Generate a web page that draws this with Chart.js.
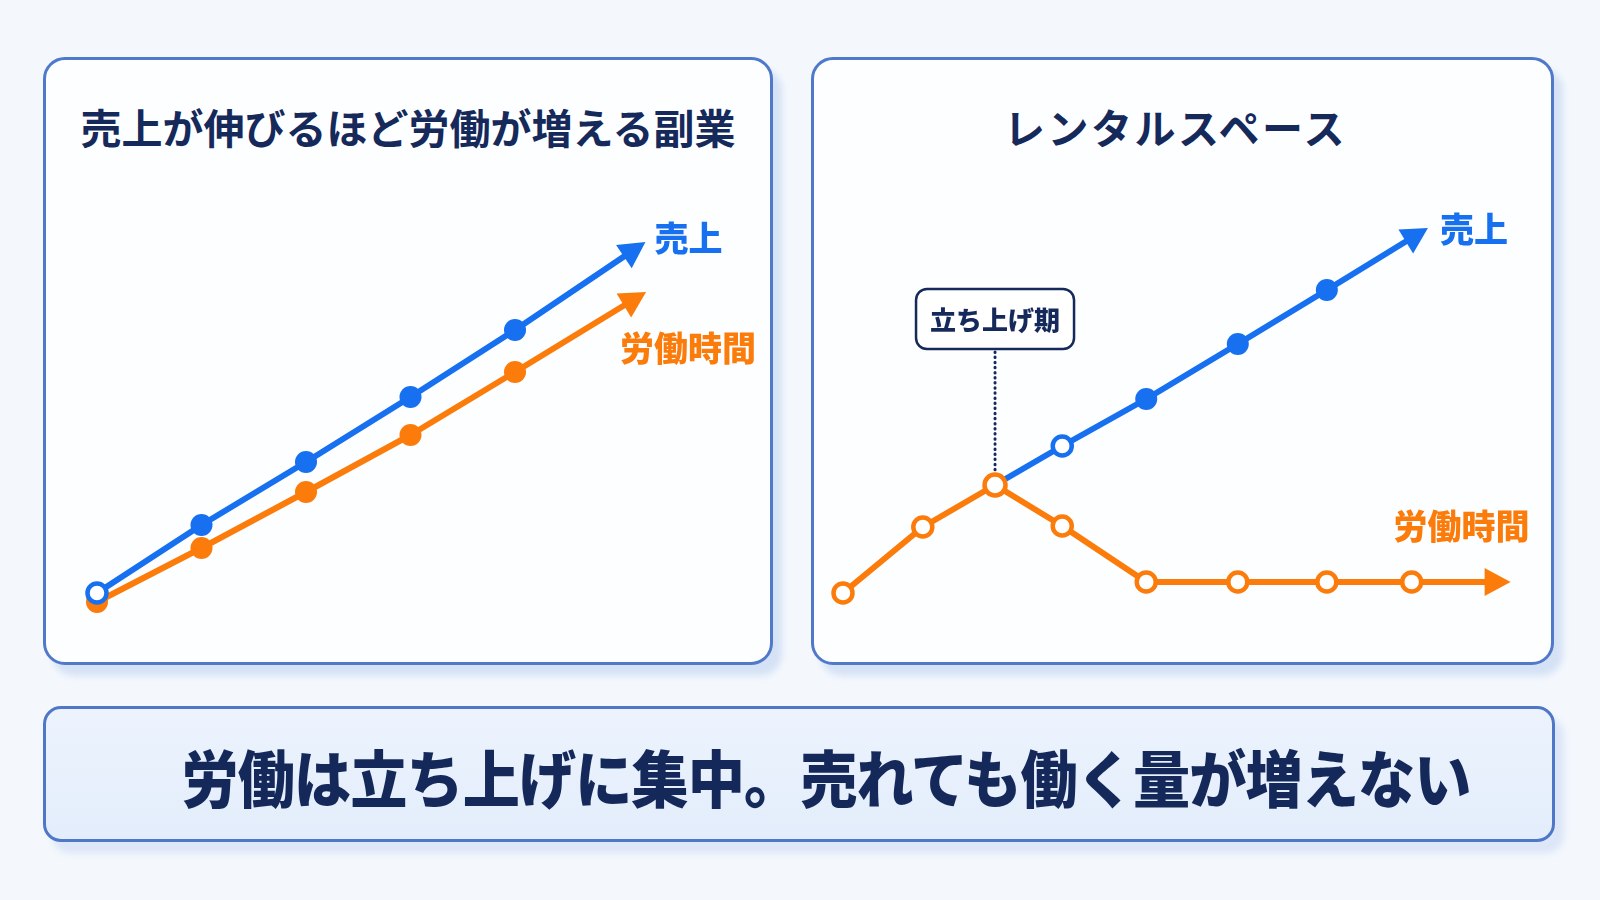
<!DOCTYPE html>
<html lang="ja">
<head>
<meta charset="utf-8">
<script src="https://cdn.jsdelivr.net/npm/chart.js@4.4.1/dist/chart.umd.min.js"></script>
<style>
  html, body { margin: 0; padding: 0; }
  body {
    width: 1600px; height: 900px; position: relative; overflow: hidden;
    background: #f4f8fd;
    font-family: "Noto Sans CJK JP", "Noto Sans", sans-serif;
  }
  .panel {
    position: absolute; box-sizing: border-box;
    background: #fdfeff;
    border: 3px solid #5079c9;
    border-radius: 22px;
    box-shadow: 9px 11px 6px rgba(150, 180, 230, 0.32);
  }
  .title {
    position: absolute; box-sizing: border-box;
    text-align: center; font-size: 41px; line-height: 41px;
    font-weight: 700; color: #15295a; white-space: nowrap;
  }
  .chartbox { position: absolute; }
  .banner {
    position: absolute; box-sizing: border-box;
    left: 43px; top: 706px; width: 1512px; height: 136px;
    background: linear-gradient(#ecf3fd, #e3edfb);
    border: 3px solid #4f77c8; border-radius: 18px;
    box-shadow: 9px 11px 6px rgba(150, 180, 230, 0.25);
  }
  .banner-text {
    position: absolute; box-sizing: border-box;
    left: 43px; top: 745px; width: 1512px; padding-left: 54px;
    text-align: center; font-size: 62px; line-height: 62px;
    font-weight: 900; color: #14285a; white-space: nowrap;
  }
  .banner-text span {
    display: inline-block; transform: scaleX(0.922); transform-origin: center;
    letter-spacing: -1px;
  }
</style>
</head>
<body>
<div class="panel" style="left:43px;top:57px;width:730px;height:608px;"></div>
<div class="panel" style="left:811px;top:57px;width:743px;height:608px;"></div>
<div class="title" id="titleLeft" style="left:43px;top:106px;width:730px;"></div>
<div class="title" id="titleRight" style="left:811px;top:106px;width:743px;padding-right:14px;letter-spacing:2.5px;"></div>
<div class="chartbox" style="left:43px;top:57px;width:730px;height:608px;"><canvas id="leftChart" width="730" height="608"></canvas></div>
<div class="chartbox" style="left:811px;top:57px;width:743px;height:608px;"><canvas id="rightChart" width="743" height="608"></canvas></div>
<div class="banner"></div>
<div class="banner-text"><span id="bannerText"></span></div>

<script>
// ---------- texts ----------
const titleLeft = "売上が伸びるほど労働が増える副業";
const titleRight = "レンタルスペース";
const bannerText = "労働は立ち上げに集中。売れても働く量が増えない";
const salesLabel = "売上";
const laborLabel = "労働時間";
const calloutLabel = "立ち上げ期";

// ---------- data: left panel (side business) ----------
const leftX = [0, 1, 2, 3, 4, 5.05];
const leftSales = [1.7, 8.5, 14.8, 21.3, 28.0, 35.4];
const leftLabor = [0.8, 6.2, 11.8, 17.5, 23.8, 30.5];

// ---------- data: right panel (rental space) ----------
const rightLaborX = [0, 0.95, 1.81, 2.61, 3.61, 4.70, 5.76, 6.77, 7.65];
const rightLabor = [1.7, 8.3, 12.5, 8.4, 2.8, 2.8, 2.8, 2.8, 2.8];
const rightSalesX = [1.81, 2.61, 3.61, 4.70, 5.76, 6.71];
const rightSales = [12.5, 16.4, 21.1, 26.6, 32.0, 36.9];
const calloutIndex = 2; // peak of labour in right panel

document.getElementById('titleLeft').textContent = titleLeft;
document.getElementById('titleRight').textContent = titleRight;
document.getElementById('bannerText').textContent = bannerText;

const BLUE = '#1670ef';
const ORANGE = '#fb7c0b';
const NAVY = '#15295a';
const WHITE = '#ffffff';
const FONT = '"Noto Sans CJK JP", "Noto Sans", sans-serif';

function pts(xs, ys) { return xs.map((x, i) => ({ x: x, y: ys[i] })); }

// arrow heads, series labels and the callout
const decorPlugin = {
  id: 'decor',
  afterDatasetsDraw(chart, args, opts) {
    const ctx = chart.ctx;
    ctx.save();
    (opts.arrows || []).forEach(a => {
      const meta = chart.getDatasetMeta(a.dataset);
      const pts = meta.data;
      const end = pts[pts.length - 1];
      const prev = pts[pts.length - 2];
      const dx = end.x - prev.x, dy = end.y - prev.y;
      const len = Math.hypot(dx, dy);
      const ux = dx / len, uy = dy / len;
      const px = -uy, py = ux;
      const L = 25, W = 14;
      const tipX = end.x + ux * L, tipY = end.y + uy * L;
      ctx.fillStyle = a.color;
      ctx.beginPath();
      ctx.moveTo(tipX, tipY);
      ctx.lineTo(end.x + px * W - ux * 1, end.y + py * W - uy * 1);
      ctx.lineTo(end.x - px * W - ux * 1, end.y - py * W - uy * 1);
      ctx.closePath();
      ctx.fill();
      if (a.label) {
        ctx.font = '900 34px ' + FONT;
        ctx.fillStyle = a.color;
        ctx.textAlign = a.align;
        ctx.textBaseline = 'middle';
        ctx.fillText(a.label, tipX + a.dx, tipY + a.dy);
      }
    });
    if (opts.callout) {
      const c = opts.callout;
      const p = chart.getDatasetMeta(c.dataset).data[c.index];
      const bw = 158, bh = 60, gap = 136;
      const bx = p.x - bw / 2, by = p.y - gap - bh;
      // dotted leader
      ctx.strokeStyle = NAVY;
      ctx.lineWidth = 3;
      ctx.lineCap = 'round';
      ctx.setLineDash([0.5, 4.6]);
      ctx.beginPath();
      ctx.moveTo(p.x, p.y - gap + 3);
      ctx.lineTo(p.x, p.y - 13);
      ctx.stroke();
      ctx.setLineDash([]);
      // box
      ctx.fillStyle = WHITE;
      ctx.strokeStyle = NAVY;
      ctx.lineWidth = 2.5;
      ctx.beginPath();
      ctx.roundRect(bx, by, bw, bh, 11);
      ctx.fill();
      ctx.stroke();
      ctx.fillStyle = NAVY;
      ctx.font = '900 26px ' + FONT;
      ctx.textAlign = 'center';
      ctx.textBaseline = 'middle';
      ctx.fillText(c.text, p.x, by + bh / 2 + 1);
    }
    ctx.restore();
  }
};

function baseOptions(pad, xMax, decor) {
  return {
    responsive: false,
    animation: false,
    events: [],
    layout: { autoPadding: false, padding: pad },
    plugins: { legend: { display: false }, tooltip: { enabled: false }, decor: decor },
    scales: {
      x: { type: 'linear', display: false, min: 0, max: xMax },
      y: { type: 'linear', display: false, min: 0, max: 40 }
    },
    elements: { line: { tension: 0, borderWidth: 6, borderCapStyle: 'butt', borderJoinStyle: 'round' } }
  };
}

new Chart(document.getElementById('leftChart'), {
  type: 'line',
  data: {
    datasets: [
      {
        label: salesLabel, data: pts(leftX, leftSales), order: 0, clip: false,
        borderColor: BLUE,
        pointRadius: [9.5, 11, 11, 11, 11, 0],
        pointBorderWidth: [4.5, 0, 0, 0, 0, 0],
        pointBackgroundColor: [WHITE, BLUE, BLUE, BLUE, BLUE, BLUE],
        pointBorderColor: BLUE
      },
      {
        label: laborLabel, data: pts(leftX, leftLabor), order: 1, clip: false,
        borderColor: ORANGE,
        pointRadius: [11, 11, 11, 11, 11, 0],
        pointBorderWidth: 0,
        pointBackgroundColor: ORANGE,
        pointBorderColor: ORANGE
      }
    ]
  },
  options: baseOptions({ left: 54, right: 49, top: 153, bottom: 55 }, 6, {
    arrows: [
      { dataset: 0, color: BLUE, label: salesLabel, align: 'left', dx: 9, dy: -4 },
      { dataset: 1, color: ORANGE, label: laborLabel, align: 'left', dx: -26, dy: 56 }
    ]
  }),
  plugins: [decorPlugin]
});

new Chart(document.getElementById('rightChart'), {
  type: 'line',
  data: {
    datasets: [
      {
        label: laborLabel, data: pts(rightLaborX, rightLabor), order: 0, clip: false,
        borderColor: ORANGE,
        pointRadius: [9.5, 9.5, 10.5, 9.5, 9.5, 9.5, 9.5, 9.5, 0],
        pointBorderWidth: 4.5,
        pointBackgroundColor: WHITE,
        pointBorderColor: ORANGE
      },
      {
        label: salesLabel, data: pts(rightSalesX, rightSales), order: 1, clip: false,
        borderColor: BLUE,
        pointRadius: [0, 9.5, 11, 11, 11, 0],
        pointBorderWidth: [0, 4.5, 0, 0, 0, 0],
        pointBackgroundColor: [BLUE, WHITE, BLUE, BLUE, BLUE, BLUE],
        pointBorderColor: BLUE
      }
    ]
  },
  options: baseOptions({ left: 32, right: 39, top: 153, bottom: 55 }, 8, {
    arrows: [
      { dataset: 1, color: BLUE, label: salesLabel, align: 'left', dx: 12, dy: 1 },
      { dataset: 0, color: ORANGE, label: laborLabel, align: 'right', dx: 19, dy: -56 }
    ],
    callout: { dataset: 0, index: calloutIndex, text: calloutLabel }
  }),
  plugins: [decorPlugin]
});
</script>
</body>
</html>
